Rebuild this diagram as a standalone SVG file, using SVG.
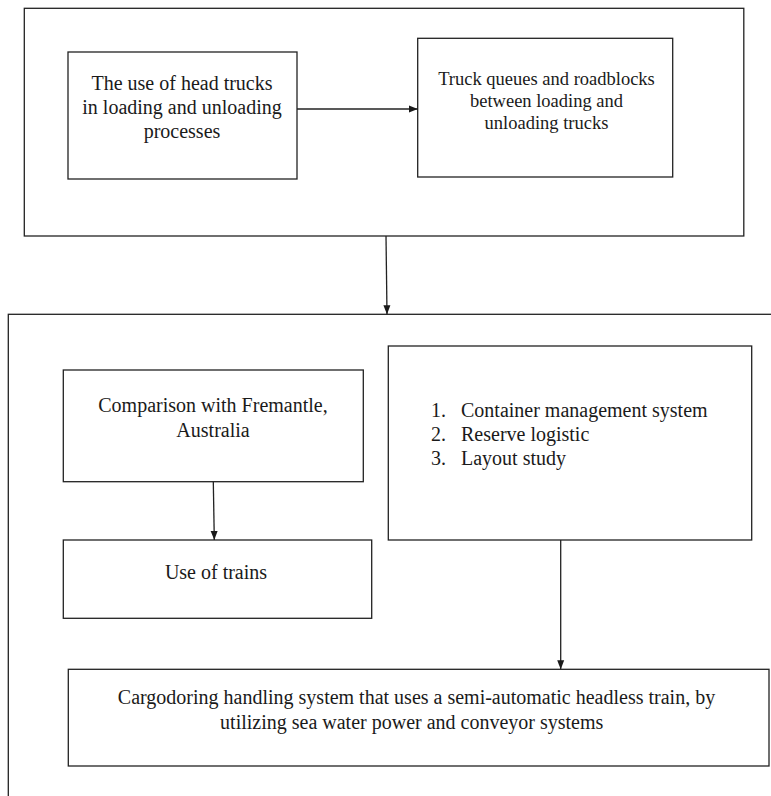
<svg xmlns="http://www.w3.org/2000/svg" width="771" height="796" viewBox="0 0 771 796">
<defs>
<marker id="arr" markerWidth="9" markerHeight="8" refX="9" refY="4" orient="auto" markerUnits="userSpaceOnUse">
<path d="M0,0.5 L9,4 L0,7.5 Z" fill="#1a1a1a"/>
</marker>
</defs>
<style>
.box{fill:none;stroke:#222;stroke-width:1.3}
.con{fill:none;stroke:#222;stroke-width:1.3}
text{font-family:"Liberation Serif","Times New Roman",serif;font-size:20px;fill:#1a1a1a}
.c{text-anchor:middle}
.s{font-size:18.5px}
</style>
<rect width="771" height="796" fill="#fff"/>
<g id="frame-top"><rect class="box" x="24.3" y="8.3" width="719.5" height="227.7"/></g>
<g id="frame-bottom"><rect class="box" x="8.3" y="314.3" width="800" height="600"/></g>
<g id="n-head-trucks">
<rect class="box" x="68" y="52" width="229" height="127"/>
<text class="c" x="182" y="90">The use of head trucks</text>
<text class="c" x="182" y="114">in loading and unloading</text>
<text class="c" x="182" y="138">processes</text>
</g>
<g id="n-truck-queues">
<rect class="box" x="417.7" y="38.3" width="255" height="138.7"/>
<text class="c s" x="546.5" y="85">Truck queues and roadblocks</text>
<text class="c s" x="546.5" y="107">between loading and</text>
<text class="c s" x="546.5" y="129">unloading trucks</text>
</g>
<g id="n-comparison">
<rect class="box" x="63.3" y="370" width="300" height="111.7"/>
<text class="c" x="213" y="412">Comparison with Fremantle,</text>
<text class="c" x="213" y="437">Australia</text>
</g>
<g id="n-trains">
<rect class="box" x="63.3" y="540" width="308.4" height="78.3"/>
<text class="c" x="216" y="579">Use of trains</text>
</g>
<g id="n-list">
<rect class="box" x="388.3" y="346" width="363.4" height="194"/>
<text x="431" y="417">1.</text><text x="461" y="417">Container management system</text>
<text x="431" y="441">2.</text><text x="461" y="441">Reserve logistic</text>
<text x="431" y="465">3.</text><text x="461" y="465">Layout study</text>
</g>
<g id="n-cargodoring">
<rect class="box" x="68.3" y="669.3" width="700.7" height="96.7"/>
<text class="c" x="416.5" y="703.5">Cargodoring handling system that uses a semi-automatic headless train, by</text>
<text class="c" x="411.7" y="728.5">utilizing sea water power and conveyor systems</text>
</g>
<g id="connectors">
<line class="con" x1="297" y1="109" x2="417.7" y2="109" marker-end="url(#arr)"/>
<line class="con" x1="386" y1="236" x2="387" y2="314.3" marker-end="url(#arr)"/>
<line class="con" x1="213.3" y1="481.7" x2="214.3" y2="540" marker-end="url(#arr)"/>
<line class="con" x1="560.7" y1="540" x2="560.7" y2="669.3" marker-end="url(#arr)"/>
</g>
</svg>
